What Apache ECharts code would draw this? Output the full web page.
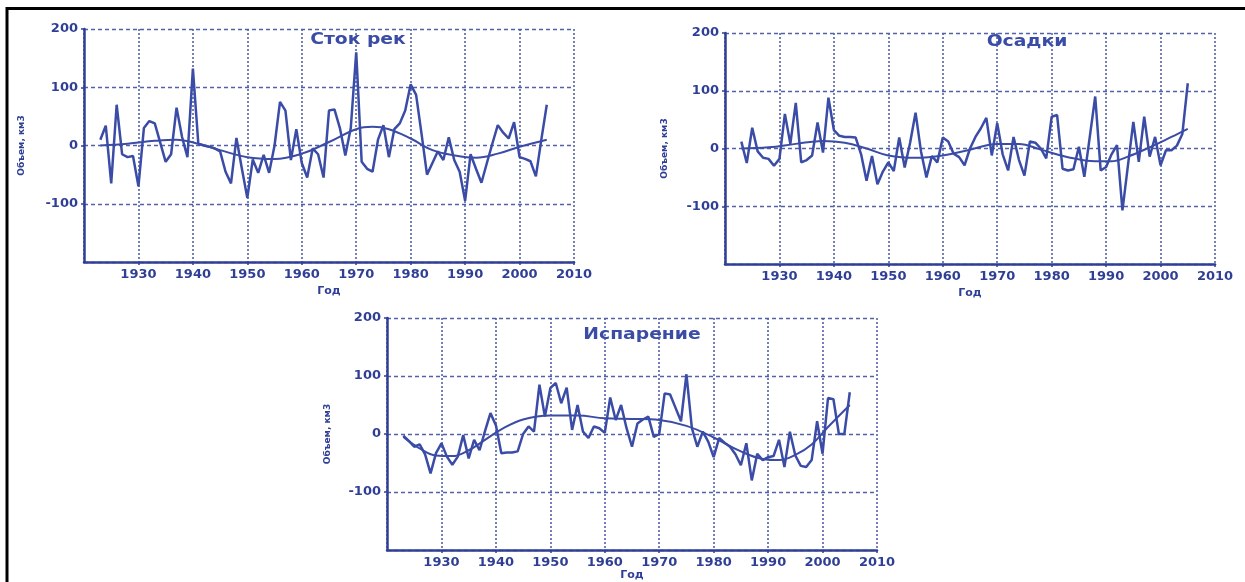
<!DOCTYPE html>
<html>
<head>
<meta charset="utf-8">
<title>Сток рек, осадки, испарение</title>
<script src="https://cdn.jsdelivr.net/npm/echarts@6/dist/echarts.min.js"></script>
<style>
  html, body { margin: 0; padding: 0; background: #fff; }
  #chart { width: 1245px; height: 582px; }
</style>
</head>
<body>
<div id="chart"></div>
<script>
  // годы наблюдений
  var years = [
    1923, 1924, 1925, 1926, 1927, 1928, 1929,
    1930, 1931, 1932, 1933, 1934, 1935, 1936, 1937, 1938, 1939,
    1940, 1941, 1942, 1943, 1944, 1945, 1946, 1947, 1948, 1949,
    1950, 1951, 1952, 1953, 1954, 1955, 1956, 1957, 1958, 1959,
    1960, 1961, 1962, 1963, 1964, 1965, 1966, 1967, 1968, 1969,
    1970, 1971, 1972, 1973, 1974, 1975, 1976, 1977, 1978, 1979,
    1980, 1981, 1982, 1983, 1984, 1985, 1986, 1987, 1988, 1989,
    1990, 1991, 1992, 1993, 1994, 1995, 1996, 1997, 1998, 1999,
    2000, 2001, 2002, 2003, 2004, 2005
  ];

  // Сток рек, км3
  var runoff = [
    10, 34, -65, 70, -15, -20, -18,
    -70, 30, 42, 38, 5, -28, -15, 65, 15, -20,
    132, 3, 0, -2, -5, -10, -45, -65, 13, -40,
    -90, -24, -47, -16, -47, 0, 75, 60, -25, 28,
    -30, -55, -5, -15, -55, 60, 62, 30, -17, 30,
    160, -28, -40, -45, 10, 35, -20, 28, 38, 60,
    105, 87, 20, -50, -30, -10, -25, 14, -25, -45,
    -95, -15, -40, -64, -30, 3, 35, 22, 12, 40,
    -20, -23, -27, -53, 10, 70
  ];
  var runoffTrendYears = [1923, 1928, 1933, 1937, 1941, 1945, 1950, 1955, 1960, 1965, 1970, 1973, 1976, 1980, 1984, 1988, 1992, 1996, 2000, 2005];
  var runoffTrend = [0, 3, 8, 10, 3, -8, -20, -23, -14, 6, 28, 32, 28, 12, -8, -17, -21, -14, -2, 10];

  // Осадки, км3
  var precip = [
    12, -25, 36, -5, -16, -18, -30,
    -18, 60, 8, 79, -24, -20, -12, 45, -7, 88,
    32, 22, 20, 20, 19, -10, -56, -13, -62, -40,
    -24, -39, 19, -33, 10, 62, -5, -50, -13, -24,
    19, 12, -9, -15, -29, 0, 20, 35, 53, -12,
    44, -10, -38, 20, -20, -47, 12, 10, 0, -17,
    55, 58, -35, -38, -36, 3, -49, 20, 90, -38,
    -32, -10, 6, -107, -30, 46, -23, 55, -14, 20,
    -29, -3, -3, 5, 25, 113
  ];
  var precipTrendYears = [1923, 1928, 1933, 1938, 1942, 1946, 1950, 1955, 1960, 1965, 1970, 1974, 1978, 1983, 1988, 1991, 1994, 1998, 2002, 2005];
  var precipTrend = [0, 2, 8, 13, 10, 0, -12, -16, -12, -2, 8, 8, -2, -15, -22, -22, -14, 2, 20, 34];

  // Испарение, км3
  var evap = [
    -3, -12, -22, -18, -35, -68, -33,
    -16, -39, -53, -39, -2, -42, -10, -28, 5, 36,
    15, -33, -32, -32, -30, 0, 13, 4, 85, 30,
    79, 88, 53, 80, 7, 50, 4, -7, 13, 10,
    2, 63, 24, 50, 10, -22, 18, 25, 30, -5,
    0, 70, 68, 45, 22, 103, 10, -22, 4, -13,
    -40, -7, -15, -22, -35, -54, -16, -80, -34, -45,
    -40, -38, -10, -57, 4, -37, -55, -57, -45, 22,
    -34, 62, 60, 0, 0, 72
  ];
  var evapTrendYears = [1923, 1926, 1929, 1932, 1935, 1938, 1941, 1945, 1950, 1955, 1960, 1965, 1970, 1975, 1980, 1985, 1989, 1992, 1995, 1998, 2001, 2005];
  var evapTrend = [-5, -25, -37, -38, -28, -10, 8, 25, 32, 32, 27, 26, 24, 14, -6, -30, -43, -45, -36, -18, 12, 50];

  var titles = ['Сток рек', 'Осадки', 'Испарение'];

  var lineColor = '#3a4ca6';
  var axisColor = '#2f3f96';
  var gridColor = '#5362a6';
  var font = '"DejaVu Sans", sans-serif';

  function pairs(xs, ys) {
    return xs.map(function (x, i) { return [x, ys[i]]; });
  }

  var grids = [
    {left: 84, top: 29, width: 490, height: 233},
    {left: 725, top: 33, width: 490, height: 231},
    {left: 387, top: 318, width: 490, height: 233}
  ];
  var yNameGaps = [58, 56, 55];
  var xNameGaps = [24, 24, 20];

  var xAxes = grids.map(function (g, i) {
    return {
      type: 'value', gridIndex: i, min: 1920, max: 2010, interval: 10,
      name: 'Год', nameLocation: 'middle', nameGap: xNameGaps[i],
      nameTextStyle: {color: axisColor, fontWeight: 'bold', fontSize: 11, fontFamily: font},
      axisLine: {show: true, onZero: false, lineStyle: {color: axisColor, width: 2.5}},
      axisTick: {show: true, length: 3, lineStyle: {color: axisColor, width: 1.5}},
      axisLabel: {
        showMinLabel: false, color: axisColor, fontWeight: 'bold', fontSize: 13, fontFamily: font, margin: 6,
        formatter: function (v) { return String(v); }
      },
      splitLine: {show: true, lineStyle: {color: gridColor, width: 1.6, type: [2, 2]}}
    };
  });

  var yAxes = grids.map(function (g, i) {
    return {
      type: 'value', gridIndex: i, min: -200, max: 200, interval: 100,
      name: 'Объем, км3', nameLocation: 'middle', nameGap: yNameGaps[i], nameRotate: 90,
      nameTextStyle: {color: axisColor, fontWeight: 'bold', fontSize: 9, fontFamily: font},
      axisLine: {show: true, onZero: false, lineStyle: {color: axisColor, width: 2.5}},
      axisTick: {show: true, length: 3, lineStyle: {color: axisColor, width: 1.5}},
      axisLabel: {showMinLabel: false, color: axisColor, fontWeight: 'bold', fontSize: 13, fontFamily: font, margin: 6},
      splitLine: {show: true, lineStyle: {color: gridColor, width: 1.4, type: [4, 3]}}
    };
  });

  var rawData = [
    pairs(years, runoff), pairs(years, precip), pairs(years, evap)
  ];
  var trendData = [
    pairs(runoffTrendYears, runoffTrend),
    pairs(precipTrendYears, precipTrend),
    pairs(evapTrendYears, evapTrend)
  ];

  var series = [];
  for (var i = 0; i < 3; i++) {
    series.push({
      name: titles[i], type: 'line', xAxisIndex: i, yAxisIndex: i,
      data: rawData[i], showSymbol: false, symbol: 'none',
      lineStyle: {color: lineColor, width: 2.5}, z: 3
    });
    series.push({
      name: titles[i] + ' (тренд)', type: 'line', xAxisIndex: i, yAxisIndex: i,
      data: trendData[i], smooth: 0.4, showSymbol: false, symbol: 'none',
      lineStyle: {color: lineColor, width: 2}, z: 4
    });
  }

  var titlePos = [[358, 40], [1027, 42], [642, 335]];
  var graphics = titles.map(function (t, i) {
    return {
      type: 'text', x: titlePos[i][0], y: titlePos[i][1], scaleX: 1.25, z: 10,
      style: {
        text: t, fill: lineColor, font: 'bold 15px ' + font,
        align: 'center', verticalAlign: 'middle',
        textAlign: 'center', textVerticalAlign: 'middle'
      }
    };
  });
  // рамка сверху и слева
  graphics.push({type: 'line', shape: {x1: 6, y1: 8.5, x2: 1245, y2: 8.5}, style: {stroke: '#000', lineWidth: 3}});
  graphics.push({type: 'line', shape: {x1: 7, y1: 7, x2: 7, y2: 582}, style: {stroke: '#000', lineWidth: 3}});

  var chart = echarts.init(document.getElementById('chart'));
  chart.setOption({
    animation: false,
    backgroundColor: '#fff',
    grid: grids,
    xAxis: xAxes,
    yAxis: yAxes,
    series: series,
    graphic: graphics
  });
  window.addEventListener('resize', function () {
    chart.resize();
  });
</script>
</body>
</html>
